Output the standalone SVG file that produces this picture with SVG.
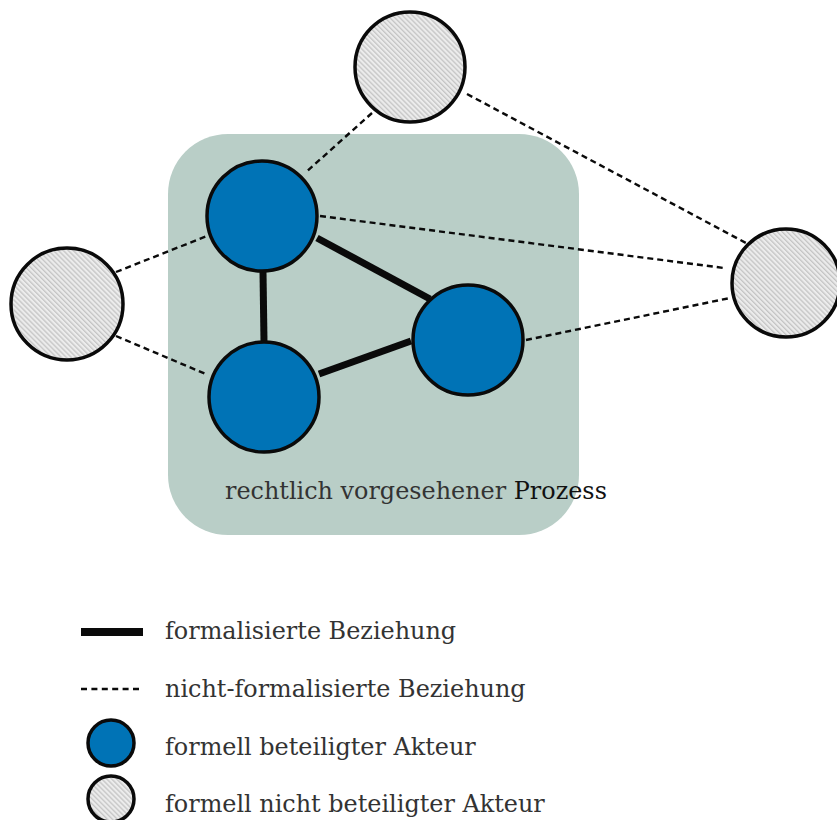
<svg xmlns="http://www.w3.org/2000/svg" width="837" height="820" viewBox="0 0 837 820">
<defs>
<pattern id="hatch" width="3.5" height="3.5" patternUnits="userSpaceOnUse" patternTransform="rotate(-45)">
<rect width="3.5" height="3.5" fill="#ececec"/>
<rect width="1.3" height="3.5" fill="#c4c4c4"/>
</pattern>
<style>
.formal{fill:#0073b6;stroke:#0a0a0a;stroke-width:3.5}
.informal{fill:url(#hatch);stroke:#0a0a0a;stroke-width:3.5}
.thick{stroke:#0a0a0a;stroke-width:7;fill:none}
.dash{stroke:#0a0a0a;stroke-width:2.4;stroke-dasharray:6 4;fill:none}
.lbl{font-family:"DejaVu Serif","Liberation Serif",serif;font-size:23.9px;fill:#333}
</style>
</defs>
<rect id="process" x="168" y="134" width="411" height="401" rx="60" ry="60" fill="#b9cec7"/>
<g id="connectors">
<line class="dash" x1="372" y1="113" x2="305" y2="173"/>
<line class="dash" x1="467" y1="94" x2="746" y2="243"/>
<line class="dash" x1="320" y1="216" x2="724" y2="268"/>
<line class="dash" x1="526" y1="340" x2="730" y2="298"/>
<line class="dash" x1="116" y1="272" x2="207" y2="236"/>
<line class="dash" x1="116" y1="336" x2="208" y2="375"/>
<line class="thick" x1="263" y1="272" x2="264" y2="342"/>
<line class="thick" x1="317" y1="238" x2="430" y2="299"/>
<line class="thick" x1="319" y1="374" x2="411" y2="341"/>
</g>
<g id="n_top_gray"><circle class="informal" cx="410" cy="67" r="55"/></g>
<g id="n_left_gray"><circle class="informal" cx="67" cy="304" r="56"/></g>
<g id="n_right_gray"><circle class="informal" cx="786" cy="283" r="54"/></g>
<g id="n_top_blue"><circle class="formal" cx="262" cy="216" r="55"/></g>
<g id="n_bottom_blue"><circle class="formal" cx="264" cy="397" r="55"/></g>
<g id="n_right_blue"><circle class="formal" cx="468" cy="340" r="55"/></g>
<text class="lbl" x="225" y="499">rechtlich vorgesehener <tspan fill="#111">Prozess</tspan></text>
<g id="legend">
<line class="thick" x1="81" y1="632" x2="143" y2="632" style="stroke-width:8"/>
<line class="dash" x1="81" y1="689" x2="143" y2="689" style="stroke-dasharray:6 4.4"/>
<circle class="formal" cx="111" cy="743" r="23"/>
<circle class="informal" cx="111" cy="799" r="23"/>
<text class="lbl" x="165" y="639">formalisierte Beziehung</text>
<text class="lbl" x="165" y="697">nicht-formalisierte Beziehung</text>
<text class="lbl" x="165" y="755">formell beteiligter Akteur</text>
<text class="lbl" x="165" y="812">formell nicht beteiligter Akteur</text>
</g>
</svg>
